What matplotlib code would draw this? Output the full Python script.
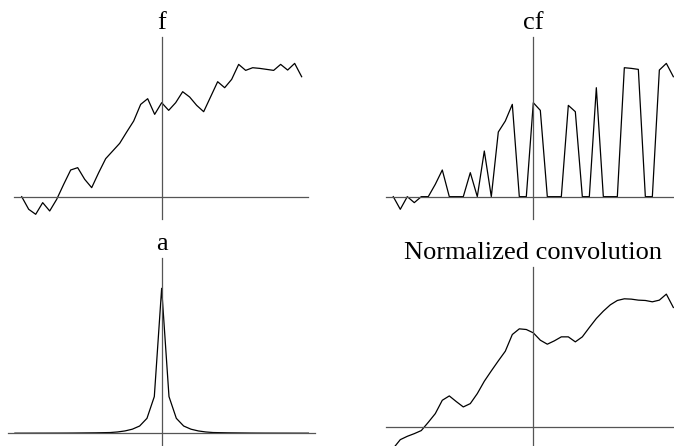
import numpy as np
import matplotlib
matplotlib.use("Agg")
from matplotlib import pyplot as plt

# sample positions -20..20
x = list(range(-20, 21))

# signal f
f = [0.0, -0.095, -0.1325, -0.045, -0.1075, -0.02, 0.0925, 0.2, 0.2175, 0.13,
     0.0675, 0.18, 0.285, 0.3425, 0.4, 0.485, 0.5675, 0.6925, 0.735, 0.6175,
     0.705, 0.6475, 0.705, 0.7875, 0.7475, 0.685, 0.6375, 0.75, 0.8625, 0.8175,
     0.88, 0.9925, 0.9475, 0.9675, 0.9625, 0.955, 0.9475, 0.9925, 0.95, 1.0,
     0.9]

# certainty-weighted signal cf
cf = [0.0, -0.095, 0.0, -0.045, 0.0, 0.0, 0.0925, 0.2, 0.0, 0.0,
      0.0, 0.18, 0.0, 0.3425, 0.0, 0.485, 0.5675, 0.6925, 0.0, 0.0,
      0.705, 0.6475, 0.0, 0.0, 0.0, 0.685, 0.6375, 0.0, 0.0, 0.8175,
      0.0, 0.0, 0.0, 0.9675, 0.9625, 0.955, 0.0, 0.0, 0.95, 1.0,
      0.9]

# applicability kernel a
a = [0.0005, 0.0005, 0.0006, 0.0007, 0.0008, 0.0009, 0.001, 0.0012, 0.0015, 0.002,
     0.0025, 0.003, 0.004, 0.005, 0.009, 0.016, 0.028, 0.05, 0.103, 0.253,
     1.0,
     0.253, 0.103, 0.05, 0.028, 0.016, 0.009, 0.005, 0.004, 0.003, 0.0025,
     0.002, 0.0015, 0.0012, 0.001, 0.0009, 0.0008, 0.0007, 0.0006, 0.0005, 0.0005]

# normalized convolution result
nc = [-0.16, -0.095, -0.07, -0.05, -0.027, 0.035, 0.1, 0.2, 0.2325, 0.19,
      0.15, 0.175, 0.25, 0.3425, 0.42, 0.495, 0.5675, 0.6925, 0.735, 0.73,
      0.705, 0.65, 0.62, 0.645, 0.675, 0.675, 0.6375, 0.675, 0.745, 0.8125,
      0.8675, 0.915, 0.9475, 0.96, 0.9575, 0.95, 0.9475, 0.9375, 0.95, 0.995,
      0.895]

W, H = 674, 446

# panel boxes in pixels: left, right, top, bottom, xlim, ylim
panels = [
    ("f", f, (14, 308.3, 37, 219.3), (-21.1, 20.95), (-0.17, 1.198)),
    ("cf", cf, (386, 680, 37, 219.3), (-21.04, 20.95), (-0.17, 1.198)),
    ("a", a, (8.3, 315, 258.3, 445), (-20.9, 20.9), (-0.081, 1.207)),
    ("Normalized convolution", nc, (386, 680, 267.3, 455), (-21.04, 20.95), (-0.21, 1.196)),
]

fig = plt.figure(figsize=(W / 100, H / 100), dpi=100)

for title, y, (l, r, t, b), xl, yl in panels:
    ax = fig.add_axes([l / W, 1 - b / H, (r - l) / W, (b - t) / H])
    ax.plot(x, y, color="black", lw=0.9)
    ax.set_xlim(xl)
    ax.set_ylim(yl)
    for s in ["top", "right"]:
        ax.spines[s].set_visible(False)
    for s in ["left", "bottom"]:
        ax.spines[s].set_position(("data", 0))
        ax.spines[s].set_color("#555555")
        ax.spines[s].set_linewidth(0.9)
    ax.set_xticks([])
    ax.set_yticks([])
    ax.patch.set_visible(False)
    ax.set_title(title, fontsize=19, family="Liberation Serif", pad=6)

fig.savefig("out.png", dpi=100)
